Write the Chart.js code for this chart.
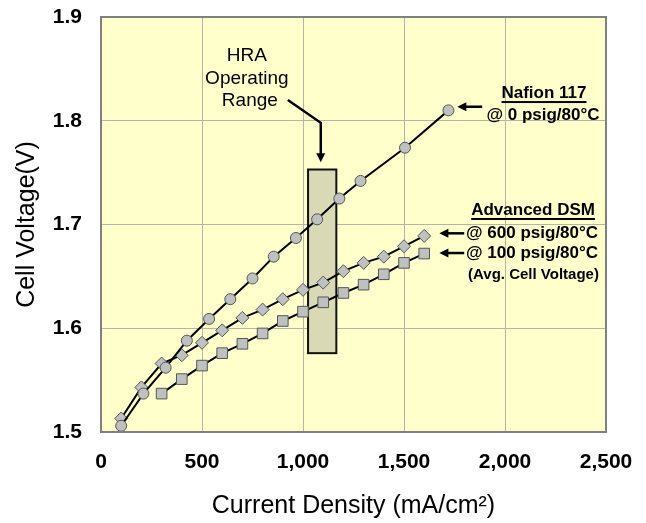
<!DOCTYPE html>
<html>
<head>
<meta charset="utf-8">
<script src="https://cdn.jsdelivr.net/npm/chart.js@4.4.0/dist/chart.umd.min.js"></script>
<style>
  html, body { margin: 0; padding: 0; background: #fff; }
</style>
</head>
<body>
<canvas id="voltageChart" width="646" height="523"></canvas>
<script>
// Nafion 117 @ 0 psig/80°C
const nafionCurrent = [100, 210, 320, 425, 535, 640, 750, 855, 965, 1070, 1180, 1285, 1505, 1720];
const nafionVoltage = [1.506, 1.537, 1.562, 1.588, 1.609, 1.628, 1.648, 1.669, 1.687, 1.705, 1.725, 1.742, 1.774, 1.810];

// Advanced DSM @ 600 psig/80°C
const dsm600Current = [100, 200, 300, 400, 500, 600, 700, 800, 900, 1000, 1100, 1200, 1300, 1400, 1500, 1600];
const dsm600Voltage = [1.513, 1.543, 1.566, 1.574, 1.586, 1.598, 1.610, 1.618, 1.628, 1.637, 1.644, 1.655, 1.663, 1.669, 1.679, 1.689];

// Advanced DSM @ 100 psig/80°C (avg. cell voltage)
const dsm100Current = [300, 400, 500, 600, 700, 800, 900, 1000, 1100, 1200, 1300, 1400, 1500, 1600];
const dsm100Voltage = [1.537, 1.551, 1.564, 1.576, 1.585, 1.595, 1.607, 1.616, 1.625, 1.634, 1.642, 1.652, 1.663, 1.672];

// HRA operating range (current from/to, voltage from/to)
const hraCurrent = [1025, 1165];
const hraVoltage = [1.576, 1.753];

const xTickLabels = ['0', '500', '1,000', '1,500', '2,000', '2,500'];
const yTickLabels = ['1.5', '1.6', '1.7', '1.8', '1.9'];

const FONT = '"Liberation Sans", Arial, sans-serif';

function points(xs, ys) {
  return xs.map((x, i) => ({ x: x, y: ys[i] }));
}

function arrowHead(ctx, x, y, angle) {
  ctx.save();
  ctx.translate(x, y);
  ctx.rotate(angle);
  ctx.beginPath();
  ctx.moveTo(0, 0);
  ctx.lineTo(-9, -4.5);
  ctx.lineTo(-9, 4.5);
  ctx.closePath();
  ctx.fill();
  ctx.restore();
}

function text(ctx, str, x, y, font, underline) {
  ctx.font = font;
  ctx.textAlign = 'center';
  ctx.textBaseline = 'middle';
  ctx.fillText(str, x, y);
  if (underline) {
    const w = ctx.measureText(str).width;
    ctx.fillRect(x - w / 2, y + 8, w, 2);
  }
}

const chartDecor = {
  id: 'chartDecor',
  beforeDraw(chart) {
    const { ctx, chartArea: a } = chart;
    ctx.save();
    ctx.fillStyle = '#ffffcc';
    ctx.fillRect(a.left, a.top, a.right - a.left, a.bottom - a.top);
    ctx.restore();
  },
  beforeDatasetsDraw(chart) {
    const { ctx, scales: { x, y } } = chart;
    const l = x.getPixelForValue(hraCurrent[0]);
    const r = x.getPixelForValue(hraCurrent[1]);
    const t = y.getPixelForValue(hraVoltage[1]);
    const b = y.getPixelForValue(hraVoltage[0]);
    ctx.save();
    ctx.fillStyle = '#d9d9b5';
    ctx.fillRect(l, t, r - l, b - t);
    ctx.strokeStyle = '#111';
    ctx.lineWidth = 2;
    ctx.strokeRect(l, t, r - l, b - t);
    ctx.restore();
  },
  afterDatasetsDraw(chart) {
    const { ctx, chartArea: a, scales: { x, y } } = chart;
    const px = v => x.getPixelForValue(v);
    const py = v => y.getPixelForValue(v);
    ctx.save();
    // plot frame
    ctx.strokeStyle = '#808080';
    ctx.lineWidth = 2;
    ctx.strokeRect(a.left, a.top, a.right - a.left, a.bottom - a.top);

    ctx.fillStyle = '#000';
    ctx.strokeStyle = '#000';
    ctx.lineWidth = 2.5;

    // HRA label and arrow
    const hx = px(722), hy = py(1.863);
    text(ctx, 'HRA', hx, hy, '19px ' + FONT);
    text(ctx, 'Operating', hx, hy + 23, '19px ' + FONT);
    text(ctx, 'Range', hx + 3, hy + 45, '19px ' + FONT);
    ctx.beginPath();
    ctx.moveTo(px(925), py(1.820));
    ctx.lineTo(px(1088), py(1.798));
    ctx.lineTo(px(1088), py(1.768));
    ctx.stroke();
    arrowHead(ctx, px(1088), py(1.760), Math.PI / 2);

    // Nafion label
    text(ctx, 'Nafion 117', px(2193), py(1.8267), 'bold 17px ' + FONT, true);
    text(ctx, '@ 0 psig/80°C', px(2188), py(1.8055), 'bold 17px ' + FONT);
    ctx.beginPath();
    ctx.moveTo(px(1887), py(1.8135));
    ctx.lineTo(px(1780), py(1.8135));
    ctx.stroke();
    arrowHead(ctx, px(1764), py(1.8135), Math.PI);

    // Advanced DSM labels
    text(ctx, 'Advanced DSM', px(2139), py(1.714), 'bold 17px ' + FONT, true);
    text(ctx, '@ 600 psig/80°C', px(2134), py(1.6915), 'bold 17px ' + FONT);
    text(ctx, '@ 100 psig/80°C', px(2134), py(1.672), 'bold 17px ' + FONT);
    text(ctx, '(Avg. Cell Voltage)', px(2141), py(1.651), 'bold 15px ' + FONT);
    [1.6915, 1.6725].forEach(v => {
      ctx.beginPath();
      ctx.moveTo(px(1798), py(v));
      ctx.lineTo(px(1690), py(v));
      ctx.stroke();
      arrowHead(ctx, px(1675), py(v), Math.PI);
    });
    ctx.restore();
  }
};

const markerStyle = {
  borderColor: '#000',
  borderWidth: 2,
  pointBackgroundColor: '#c0c0c0',
  pointBorderColor: '#555',
  pointBorderWidth: 1,
  showLine: true,
  tension: 0,
  fill: false
};

new Chart(document.getElementById('voltageChart'), {
  type: 'scatter',
  data: {
    datasets: [
      Object.assign({ label: 'Nafion 117 @ 0 psig/80°C', data: points(nafionCurrent, nafionVoltage), pointStyle: 'circle', pointRadius: 5.5 }, markerStyle),
      Object.assign({ label: 'Advanced DSM @ 600 psig/80°C', data: points(dsm600Current, dsm600Voltage), pointStyle: 'rectRot', pointRadius: 6.5 }, markerStyle),
      Object.assign({ label: 'Advanced DSM @ 100 psig/80°C', data: points(dsm100Current, dsm100Voltage), pointStyle: 'rect', pointRadius: 7.5 }, markerStyle)
    ]
  },
  options: {
    responsive: false,
    animation: false,
    devicePixelRatio: 1,
    layout: { padding: { top: 17, right: 40, left: 0, bottom: 0 } },
    plugins: {
      legend: { display: false },
      tooltip: { enabled: false }
    },
    scales: {
      x: {
        type: 'linear',
        min: 0,
        max: 2500,
        afterFit: scale => {
          scale.height = 91;
          scale.paddingLeft = 0;
          scale.paddingRight = 0;
        },
        grid: { color: '#b4b4a8', lineWidth: 1, drawTicks: false },
        border: { color: '#808080', width: 2 },
        ticks: {
          stepSize: 500,
          padding: 18,
          color: '#000',
          font: { family: FONT, size: 21, weight: 'bold' },
          callback: value => xTickLabels[value / 500]
        },
        title: {
          display: true,
          text: 'Current Density (mA/cm²)',
          color: '#000',
          font: { family: FONT, size: 25 },
          padding: { top: 0, bottom: 2 }
        }
      },
      y: {
        min: 1.5,
        max: 1.9,
        afterFit: scale => {
          scale.width = 101;
          scale.paddingTop = 0;
          scale.paddingBottom = 0;
        },
        grid: { color: '#b4b4a8', lineWidth: 1, drawTicks: false },
        border: { color: '#808080', width: 2 },
        ticks: {
          stepSize: 0.1,
          padding: 19,
          color: '#000',
          font: { family: FONT, size: 21, weight: 'bold' },
          callback: value => yTickLabels[Math.round((value - 1.5) * 10)]
        },
        title: {
          display: true,
          text: 'Cell Voltage(V)',
          color: '#000',
          font: { family: FONT, size: 25 },
          padding: { top: 12, bottom: 0 }
        }
      }
    }
  },
  plugins: [chartDecor]
});
</script>
</body>
</html>
